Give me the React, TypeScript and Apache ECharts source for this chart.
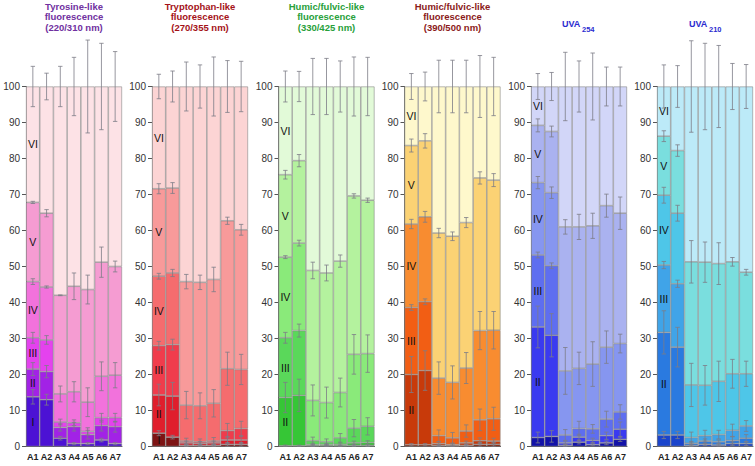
import React, { useEffect, useRef } from 'react';
import * as echarts from 'echarts';

const categories = ['A1', 'A2', 'A3', 'A4', 'A5', 'A6', 'A7'];
const fractionNames = ['I', 'II', 'III', 'IV', 'V', 'VI'];

// cumulative tops (%) of fractions I..V for each sample; fraction VI ends at 100
const tyrosineTops = [
  [13.8, 13.0, 2.3, 0.8, 0.8, 1.8, 0.8],
  [21.5, 20.8, 5.3, 5.5, 3.3, 5.8, 5.5],
  [30.2, 29.6, 6.8, 6.6, 4.2, 8.0, 8.0],
  [45.8, 44.3, 14.6, 15.2, 12.3, 19.5, 19.8],
  [67.8, 64.8, 42.0, 44.5, 43.6, 51.2, 50.0],
];
const tyrosineErr = [
  [2.0, 1.5, 0.5, 0.3, 0.3, 0.5, 0.3],
  [1.8, 1.7, 1.0, 1.2, 1.2, 1.5, 1.5],
  [1.5, 1.2, 0.8, 0.8, 1.0, 1.2, 1.2],
  [0.8, 0.3, 2.2, 2.8, 4.0, 4.0, 3.5],
  [0.3, 1.0, 0.1, 3.7, 4.0, 4.2, 1.5],
  [5.6, 3.7, 5.6, 8.1, 12.9, 12.0, 9.7],
];

const tryptophanTops = [
  [3.7, 2.6, 0.3, 0.3, 0.3, 0.6, 0.6],
  [14.3, 14.0, 1.0, 0.9, 1.0, 1.8, 1.8],
  [28.0, 28.3, 1.5, 1.3, 1.5, 4.4, 5.0],
  [47.3, 48.2, 11.5, 11.3, 12.0, 21.6, 21.4],
  [71.6, 71.8, 45.8, 45.6, 46.4, 62.7, 60.2],
];
const tryptophanErr = [
  [0.7, 0.5, 0.3, 0.3, 0.3, 0.5, 0.5],
  [3.0, 3.8, 0.5, 0.5, 0.5, 1.0, 1.0],
  [1.2, 1.5, 0.8, 0.8, 1.0, 2.0, 2.0],
  [0.8, 1.0, 3.8, 3.6, 3.8, 4.6, 4.2],
  [1.4, 1.5, 2.0, 2.0, 3.4, 1.0, 1.5],
  [3.4, 4.3, 6.8, 6.0, 8.2, 7.2, 7.0],
];

const humic330Tops = [
  [0.2, 0.2, 0.2, 0.2, 0.2, 0.3, 0.3],
  [13.6, 14.2, 0.5, 0.5, 0.6, 1.0, 1.1],
  [30.2, 32.2, 1.6, 1.3, 2.4, 5.1, 5.6],
  [52.6, 56.5, 12.8, 12.2, 15.0, 25.6, 25.8],
  [75.5, 79.4, 48.9, 48.2, 51.5, 69.6, 68.4],
];
const humic330Err = [
  [0.2, 0.2, 0.2, 0.2, 0.2, 0.3, 0.3],
  [4.2, 4.5, 0.4, 0.3, 0.4, 0.5, 0.5],
  [1.5, 1.8, 1.0, 0.8, 1.2, 2.4, 2.4],
  [0.4, 0.8, 4.3, 4.3, 4.0, 5.5, 5.2],
  [1.2, 1.7, 2.3, 2.2, 1.7, 0.6, 0.6],
  [4.3, 4.2, 7.8, 7.8, 7.1, 8.2, 8.1],
];

const humic390Tops = [
  [0.5, 0.5, 0.3, 0.2, 0.3, 0.6, 0.6],
  [20.0, 21.1, 0.8, 0.5, 1.0, 1.6, 1.5],
  [38.6, 40.2, 3.0, 2.4, 4.3, 7.4, 7.7],
  [61.8, 63.8, 19.0, 17.8, 21.8, 32.2, 32.3],
  [83.6, 84.9, 59.3, 58.4, 62.2, 74.6, 74.0],
];
const humic390Err = [
  [0.3, 0.3, 0.3, 0.2, 0.3, 0.5, 0.5],
  [5.0, 5.5, 0.5, 0.4, 0.5, 0.8, 0.8],
  [0.8, 0.8, 1.6, 1.5, 1.7, 3.0, 3.2],
  [1.3, 1.5, 4.5, 4.6, 4.3, 5.3, 5.2],
  [1.8, 2.0, 1.3, 1.2, 1.4, 1.7, 1.8],
  [3.6, 4.0, 7.3, 7.3, 7.3, 8.6, 8.1],
];

const uva254Tops = [
  [2.5, 2.8, 0.3, 1.2, 0.5, 1.0, 2.0],
  [33.2, 30.9, 1.0, 2.6, 1.7, 3.0, 4.8],
  [53.2, 50.2, 3.2, 5.0, 4.9, 7.6, 9.6],
  [73.3, 70.5, 21.0, 21.7, 22.9, 27.6, 28.6],
  [89.2, 87.5, 61.0, 61.0, 61.3, 66.9, 64.8],
];
const uva254Err = [
  [1.5, 1.6, 0.3, 0.5, 0.3, 0.5, 0.6],
  [5.8, 6.0, 0.5, 0.8, 0.6, 1.0, 2.0],
  [0.8, 0.8, 1.5, 2.0, 1.2, 2.2, 2.0],
  [1.7, 1.6, 6.5, 4.5, 6.2, 4.5, 2.6],
  [1.8, 1.5, 2.0, 3.5, 3.5, 3.2, 4.5],
  [3.6, 3.9, 9.5, 7.1, 9.3, 5.4, 5.4],
];

const uva210Tops = [
  [3.2, 3.2, 0.3, 0.6, 0.4, 0.8, 0.8],
  [31.7, 27.6, 0.9, 1.5, 1.3, 1.7, 2.3],
  [50.4, 45.2, 2.5, 3.0, 3.3, 4.5, 5.7],
  [69.8, 64.8, 17.1, 17.0, 18.1, 20.2, 20.2],
  [86.2, 82.2, 51.3, 51.2, 50.8, 51.3, 48.4],
];
const uva210Err = [
  [1.0, 1.0, 0.3, 0.3, 0.3, 0.5, 0.5],
  [6.0, 5.5, 0.5, 0.6, 0.5, 1.0, 1.0],
  [1.0, 1.0, 1.5, 1.5, 1.2, 1.7, 1.5],
  [2.2, 2.2, 6.0, 5.5, 5.6, 4.0, 3.5],
  [1.5, 1.6, 5.9, 5.6, 5.8, 1.2, 0.8],
  [6.0, 5.8, 12.7, 12.0, 11.4, 6.4, 6.1],
];

const FONT = '"Liberation Sans", Arial, sans-serif';

const panels = [
  {
    title: ['Tyrosine-like', 'fluorescence', '(220/310 nm)'],
    titleColor: '#7030a0',
    tops: tyrosineTops,
    errs: tyrosineErr,
    colors: ['#4c12d4', '#a222e6', '#e442ee', '#f272dc', '#f59cd2', '#fde2e6'],
    labeled: [0, 1, 2, 3, 4, 5],
    left: 26,
  },
  {
    title: ['Tryptophan-like', 'fluorescence', '(270/355 nm)'],
    titleColor: '#a41218',
    tops: tryptophanTops,
    errs: tryptophanErr,
    colors: ['#7e1414', '#e01e2c', '#f03c4c', '#f56c6e', '#f89a9a', '#fcd4d4'],
    labeled: [0, 1, 2, 3, 4, 5],
    left: 152,
  },
  {
    title: ['Humic/fulvic-like', 'fluorescence', '(330/425 nm)'],
    titleColor: '#28a03a',
    tops: humic330Tops,
    errs: humic330Err,
    colors: ['#0e5a1a', '#36c636', '#5ad85a', '#8aea7a', '#b4f29e', '#e2fad8'],
    labeled: [1, 2, 3, 4, 5],
    left: 278.5,
  },
  {
    title: ['Humic/fulvic-like', 'fluorescence', '(390/500 nm)'],
    titleColor: '#8b1a1a',
    tops: humic390Tops,
    errs: humic390Err,
    colors: ['#8a1c00', '#c83a0a', '#f25e14', '#f88c30', '#fbd274', '#fef8cc'],
    labeled: [1, 2, 3, 4, 5],
    left: 404.5,
  },
  {
    title: [],
    titleColor: '#2b2bd0',
    tops: uva254Tops,
    errs: uva254Err,
    colors: ['#1212a8', '#3a3af0', '#5e6ef0', '#8696f0', '#aab2f0', '#d2d6f8'],
    labeled: [1, 2, 3, 4, 5],
    left: 531,
  },
  {
    title: [],
    titleColor: '#2b2bd0',
    tops: uva210Tops,
    errs: uva210Err,
    colors: ['#1a44cc', '#2a7ae0', '#40a4e8', '#4ec6e8', '#7adede', '#bceaf8'],
    labeled: [1, 2, 3, 4, 5],
    left: 657,
  },
];

const GRID_TOP = 86.5;
const GRID_H = 360;
const GRID_W = 96;
const TITLE_LINE_Y = [6, 16.5, 27];

function buildOption() {
  const grid: any[] = [];
  const xAxis: any[] = [];
  const yAxis: any[] = [];
  const series: any[] = [];
  const graphic: any[] = [];

  panels.forEach((p, pi) => {
    grid.push({ left: p.left, top: GRID_TOP, width: GRID_W, height: GRID_H });
    xAxis.push({
      type: 'category',
      gridIndex: pi,
      data: categories,
      axisLine: { show: true, lineStyle: { color: '#555', width: 1 } },
      axisTick: { show: false },
      axisLabel: { interval: 0, fontSize: 9, fontWeight: 'bold', color: '#222', margin: 6, fontFamily: FONT },
    });
    yAxis.push({
      type: 'value',
      gridIndex: pi,
      min: 0,
      max: 100,
      interval: 10,
      axisLine: { show: true, lineStyle: { color: '#555', width: 1 } },
      axisTick: { show: true, length: 4, lineStyle: { color: '#555' } },
      axisLabel: { fontSize: 10, color: '#333', margin: 6, fontFamily: FONT },
      splitLine: { show: false },
    });

    for (let f = 0; f < 6; f++) {
      const seg = categories.map((_, j) => {
        const top = f < 5 ? p.tops[f][j] : 100;
        const bottom = f > 0 ? p.tops[f - 1][j] : 0;
        return +(top - bottom).toFixed(3);
      });
      const showLab = p.labeled.includes(f);
      series.push({
        type: 'bar',
        name: `${pi}-${fractionNames[f]}`,
        xAxisIndex: pi,
        yAxisIndex: pi,
        stack: 'stack' + pi,
        barCategoryGap: '0%',
        data: seg,
        itemStyle: { color: p.colors[f], borderColor: '#8a8a8a', borderWidth: 0.6 },
        label: {
          show: showLab,
          position: 'inside',
          fontSize: 10.5,
          color: '#111',
          fontFamily: FONT,
          formatter: (params: any) => (params.dataIndex === 0 ? fractionNames[f] : ''),
        },
        z: 2,
      });
    }

    const errData: number[][] = [];
    for (let f = 0; f < 6; f++) {
      for (let j = 0; j < categories.length; j++) {
        const c = f < 5 ? p.tops[f][j] : 100;
        errData.push([j, c, p.errs[f][j]]);
      }
    }
    series.push({
      type: 'custom',
      xAxisIndex: pi,
      yAxisIndex: pi,
      clip: false,
      z: 5,
      data: errData,
      renderItem: (params: any, api: any) => {
        const x = api.value(0);
        const c = api.value(1);
        const e = api.value(2);
        const hi = api.coord([x, c + e]);
        const lo = api.coord([x, Math.max(0, c - e)]);
        const w = 2.2;
        const st = { stroke: '#7c7c86', lineWidth: 0.8 };
        return {
          type: 'group',
          children: [
            { type: 'line', shape: { x1: hi[0], y1: hi[1], x2: lo[0], y2: lo[1] }, style: st },
            { type: 'line', shape: { x1: hi[0] - w, y1: hi[1], x2: hi[0] + w, y2: hi[1] }, style: st },
            { type: 'line', shape: { x1: lo[0] - w, y1: lo[1], x2: lo[0] + w, y2: lo[1] }, style: st },
          ],
        };
      },
    });

    p.title.forEach((line, li) => {
      graphic.push({
        type: 'text',
        x: p.left + GRID_W / 2,
        y: TITLE_LINE_Y[li],
        style: {
          text: line,
          fill: p.titleColor,
          font: `bold 9.5px ${FONT}`,
          textAlign: 'center',
          textVerticalAlign: 'middle',
        },
      });
    });
  });

  // UVA subscript titles
  const uvaTitles = [
    { main: 'UVA', sub: '254', x: 562 },
    { main: 'UVA', sub: '210', x: 689 },
  ];
  uvaTitles.forEach((t) => {
    graphic.push({
      type: 'text',
      x: t.x,
      y: 24,
      style: { text: t.main, fill: '#2b2bd0', font: `bold 9px ${FONT}`, textAlign: 'left', textVerticalAlign: 'middle' },
    });
    graphic.push({
      type: 'text',
      x: t.x + 20,
      y: 29.5,
      style: { text: t.sub, fill: '#2b2bd0', font: `bold 7.5px ${FONT}`, textAlign: 'left', textVerticalAlign: 'middle' },
    });
  });

  return {
    animation: false,
    backgroundColor: '#ffffff',
    grid,
    xAxis,
    yAxis,
    series,
    graphic,
  };
}

export default function App() {
  const ref = useRef<HTMLDivElement>(null);
  useEffect(() => {
    const chart = echarts.init(ref.current!, null, { renderer: 'svg' });
    chart.setOption(buildOption() as any);
    return () => chart.dispose();
  }, []);
  return (
    <div
      ref={ref}
      style={{ position: 'absolute', left: 0, top: 0, width: 755, height: 466, background: '#fff' }}
    />
  );
}
